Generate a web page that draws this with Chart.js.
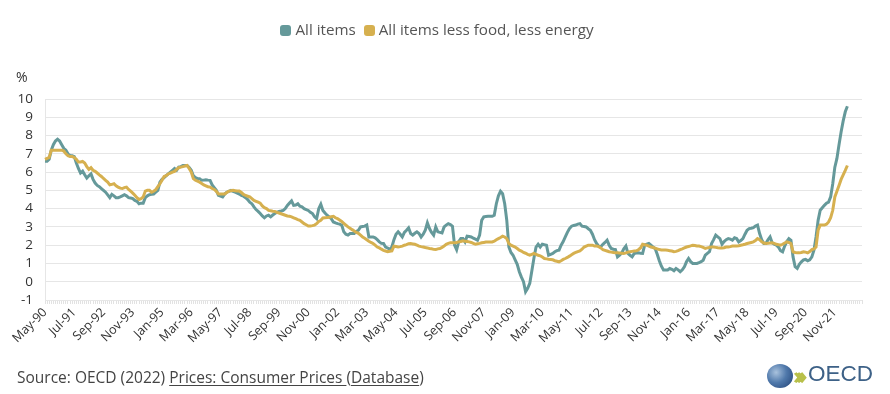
<!DOCTYPE html>
<html>
<head>
<meta charset="utf-8">
<script src="https://cdn.jsdelivr.net/npm/chart.js@4.4.0/dist/chart.umd.min.js"></script>
<style>
  body { margin: 0; background: #fff; font-family: "Open Sans", sans-serif; color: #444; }
  #wrap { position: relative; width: 890px; height: 394px; overflow: hidden; }
  #chart { position: absolute; left: 0; top: 0; }
  .legend { position: absolute; top: 19px; left: -8px; width: 890px; text-align: center; font-size: 15.2px; color: #555; }
  .legend span.box { display: inline-block; width: 11px; height: 11px; border-radius: 3px; vertical-align: -1px; margin-right: 4px; }
  .legend span.item { margin: 0 2px; }
  .unit { position: absolute; left: 16px; top: 67px; font-size: 14px; color: #333; }
  .source { position: absolute; left: 17px; top: 366px; font-size: 15.5px; color: #444; }
  .source u { text-underline-offset: 2px; }
  .logo { position: absolute; left: 767px; top: 364px; height: 26px; }
  .globe { position: absolute; left: 0; top: 0; width: 26px; height: 24px; border-radius: 50%;
    background: radial-gradient(circle at 35% 35%, #a9c2dd 0%, #5079ab 45%, #1f3f73 100%); }
  .chev { position: absolute; left: 26px; top: -6px; font-size: 24px; color: #b8c04a; letter-spacing: -6px; font-weight: bold; }
  .oecd { position: absolute; left: 41px; top: -3px; font-size: 22.5px; color: #3d6187; font-family: "Liberation Sans", Arial, sans-serif; }
</style>
</head>
<body>
<div id="wrap">
  <canvas id="chart" width="890" height="394"></canvas>
  <div class="legend">
    <span class="item"><span class="box" style="background:#65999a"></span>All items</span>
    <span class="item"><span class="box" style="background:#d6b04f"></span>All items less food, less energy</span>
  </div>
  <div class="unit">%</div>
  <div class="source">Source: OECD (2022) <u>Prices: Consumer Prices </u>(<u>Database</u>)</div>
  <div class="logo"><div class="globe"></div><div class="chev">&#8250;&#8250;&#8250;</div><div class="oecd">OECD</div></div>
</div>
<script>
// monthly, May-90 .. May-22 (year-on-year % change)
const allItems = [
  6.6, 6.6, 6.7, 7.2, 7.5, 7.7, 7.8, 7.7,                               // 1990 May-Dec
  7.5, 7.3, 7.2, 7.0, 6.9, 6.9, 6.85, 6.5, 6.2, 5.95, 6.05, 5.85,        // 1991
  5.67, 5.8, 5.9, 5.6, 5.4, 5.27, 5.2, 5.1, 5.0, 4.9, 4.75, 4.6,         // 1992
  4.78, 4.7, 4.6, 4.6, 4.64, 4.7, 4.76, 4.7, 4.6, 4.58, 4.55, 4.45,      // 1993
  4.4, 4.27, 4.3, 4.3, 4.6, 4.7, 4.76, 4.78, 4.8, 4.9, 5.0, 5.45,        // 1994
  5.6, 5.7, 5.8, 5.9, 6.0, 6.1, 6.2, 6.1, 6.27, 6.3, 6.36, 6.36,         // 1995
  6.36, 6.25, 6.1, 5.8, 5.7, 5.64, 5.64, 5.55, 5.56, 5.58, 5.56, 5.55,   // 1996
  5.3, 5.15, 5.0, 4.73, 4.68, 4.64, 4.8, 4.9, 4.95, 5.0, 4.95, 4.9,      // 1997
  4.85, 4.8, 4.73, 4.68, 4.6, 4.5, 4.35, 4.27, 4.1, 3.95, 3.85, 3.73,    // 1998
  3.6, 3.5, 3.6, 3.64, 3.55, 3.65, 3.73, 3.8, 3.85, 3.87, 3.9, 4.0,      // 1999
  4.18, 4.3, 4.42, 4.18, 4.2, 4.27, 4.13, 4.1, 4.0, 3.95, 3.9, 3.8,      // 2000
  3.73, 3.55, 3.45, 4.0, 4.24, 3.9, 3.76, 3.64, 3.55, 3.45, 3.27, 3.22,  // 2001
  3.18, 3.15, 3.1, 2.73, 2.6, 2.55, 2.64, 2.64, 2.64, 2.75, 2.82, 3.0,   // 2002
  3.02, 3.04, 3.1, 2.45, 2.45, 2.45, 2.4, 2.3, 2.18, 2.1, 2.09, 1.9,     // 2003
  1.85, 1.76, 1.9, 2.3, 2.6, 2.73, 2.6, 2.45, 2.7, 2.82, 2.95, 2.64,     // 2004
  2.55, 2.65, 2.73, 2.64, 2.45, 2.6, 2.82, 3.22, 2.91, 2.7, 2.55, 3.0,   // 2005
  2.73, 2.7, 2.67, 3.0, 3.1, 3.18, 3.13, 3.04, 2.0, 1.75, 2.2, 2.36,     // 2006
  2.36, 2.18, 2.49, 2.47, 2.45, 2.38, 2.33, 2.27, 2.55, 3.36, 3.55, 3.57, // 2007
  3.58, 3.58, 3.58, 3.64, 4.27, 4.7, 4.95, 4.82, 4.27, 3.36, 1.9, 1.6,   // 2008
  1.45, 1.2, 0.95, 0.55, 0.25, 0.0, -0.55, -0.36, -0.09, 0.6, 1.3, 1.9,  // 2009
  2.05, 1.9, 2.05, 2.02, 2.0, 1.45, 1.5, 1.55, 1.64, 1.7, 1.73, 2.0,     // 2010
  2.2, 2.45, 2.7, 2.91, 3.04, 3.08, 3.1, 3.15, 3.18, 3.04, 3.02, 3.0,    // 2011
  2.9, 2.82, 2.6, 2.3, 2.09, 1.95, 1.92, 2.05, 2.15, 2.27, 2.0, 1.82,    // 2012
  1.78, 1.76, 1.36, 1.45, 1.58, 1.8, 1.95, 1.55, 1.45, 1.36, 1.55, 1.57, // 2013
  1.58, 1.56, 1.55, 2.0, 2.05, 2.09, 2.0, 1.9, 1.82, 1.5, 1.15, 0.85,    // 2014
  0.64, 0.64, 0.64, 0.73, 0.68, 0.6, 0.73, 0.65, 0.55, 0.65, 0.82, 1.09, // 2015
  1.27, 1.1, 1.0, 1.0, 1.0, 1.04, 1.1, 1.18, 1.45, 1.55, 1.64, 2.09,     // 2016
  2.3, 2.55, 2.45, 2.36, 2.05, 2.2, 2.3, 2.36, 2.33, 2.27, 2.4, 2.36,    // 2017
  2.18, 2.25, 2.36, 2.6, 2.82, 2.91, 2.93, 2.96, 3.05, 3.1, 2.64, 2.3,   // 2018
  2.09, 2.09, 2.3, 2.45, 2.13, 2.05, 2.0, 1.9, 1.7, 1.64, 1.95, 2.2,     // 2019
  2.36, 2.27, 1.36, 0.82, 0.73, 0.95, 1.09, 1.2, 1.22, 1.15, 1.2, 1.36,  // 2020
  1.73, 2.45, 3.36, 3.91, 4.05, 4.18, 4.3, 4.36, 4.64, 5.36, 6.27, 6.75, // 2021
  7.5, 8.2, 8.8, 9.3, 9.6                                                // 2022 Jan-May
];

const coreItems = [
  6.7, 6.75, 6.8, 7.2, 7.2, 7.2, 7.2, 7.2,                               // 1990 May-Dec
  7.2, 7.15, 7.0, 6.9, 6.85, 6.85, 6.8, 6.7, 6.55, 6.55, 6.58, 6.5,      // 1991
  6.3, 6.15, 6.24, 6.1, 6.04, 5.95, 5.85, 5.76, 5.65, 5.55, 5.45, 5.3,   // 1992
  5.33, 5.36, 5.25, 5.18, 5.12, 5.1, 5.15, 5.18, 5.05, 4.96, 4.85, 4.73, // 1993
  4.6, 4.5, 4.55, 4.64, 4.96, 5.0, 5.0, 4.9, 4.95, 5.04, 5.2, 5.36,      // 1994
  5.55, 5.76, 5.8, 5.9, 5.95, 6.0, 6.04, 6.15, 6.24, 6.27, 6.3, 6.33,    // 1995
  6.36, 6.2, 6.0, 5.64, 5.55, 5.5, 5.45, 5.38, 5.3, 5.25, 5.2, 5.18,     // 1996
  5.1, 5.05, 4.95, 4.8, 4.8, 4.8, 4.8, 4.88, 4.96, 4.98, 5.0, 4.98,      // 1997
  4.96, 4.96, 4.88, 4.78, 4.72, 4.68, 4.64, 4.55, 4.45, 4.4, 4.35, 4.3,  // 1998
  4.15, 4.05, 4.0, 3.9, 3.88, 3.86, 3.85, 3.8, 3.76, 3.72, 3.68, 3.64,   // 1999
  3.6, 3.58, 3.55, 3.5, 3.45, 3.4, 3.36, 3.27, 3.18, 3.12, 3.05, 3.05,   // 2000
  3.07, 3.1, 3.18, 3.3, 3.36, 3.49, 3.5, 3.51, 3.53, 3.56, 3.58, 3.5,    // 2001
  3.45, 3.38, 3.3, 3.2, 3.1, 3.0, 2.93, 2.85, 2.78, 2.7, 2.65, 2.55,     // 2002
  2.45, 2.38, 2.3, 2.22, 2.15, 2.09, 2.0, 1.9, 1.85, 1.78, 1.72, 1.68,   // 2003
  1.64, 1.67, 1.69, 1.95, 1.93, 1.9, 1.92, 1.95, 2.0, 2.03, 2.08, 2.09,  // 2004
  2.07, 2.05, 2.0, 1.95, 1.92, 1.9, 1.87, 1.85, 1.82, 1.8, 1.77, 1.76,   // 2005
  1.8, 1.82, 1.88, 1.95, 2.05, 2.1, 2.13, 2.13, 2.13, 2.15, 2.18, 2.2,   // 2006
  2.24, 2.22, 2.2, 2.18, 2.15, 2.1, 2.05, 2.08, 2.1, 2.13, 2.15, 2.17,   // 2007
  2.18, 2.18, 2.18, 2.22, 2.3, 2.36, 2.42, 2.49, 2.45, 2.36, 2.09, 2.0,  // 2008
  1.95, 1.9, 1.82, 1.73, 1.68, 1.6, 1.56, 1.5, 1.45, 1.5, 1.55, 1.5,     // 2009
  1.45, 1.42, 1.35, 1.27, 1.25, 1.23, 1.22, 1.2, 1.15, 1.12, 1.09, 1.15, // 2010
  1.22, 1.27, 1.33, 1.4, 1.48, 1.55, 1.6, 1.65, 1.69, 1.78, 1.9, 1.95,   // 2011
  2.0, 2.0, 2.0, 1.95, 1.95, 1.92, 1.85, 1.76, 1.72, 1.68, 1.64, 1.62,   // 2012
  1.6, 1.58, 1.58, 1.57, 1.56, 1.55, 1.58, 1.62, 1.64, 1.66, 1.68, 1.69, // 2013
  1.75, 1.85, 2.05, 2.02, 2.0, 1.95, 1.9, 1.87, 1.83, 1.8, 1.76, 1.74,   // 2014
  1.73, 1.73, 1.72, 1.7, 1.68, 1.64, 1.66, 1.7, 1.76, 1.8, 1.85, 1.9,    // 2015
  1.93, 1.96, 2.0, 1.98, 1.96, 1.95, 1.92, 1.88, 1.82, 1.85, 1.88, 1.9,  // 2016
  1.9, 1.88, 1.86, 1.85, 1.85, 1.86, 1.9, 1.9, 1.92, 1.95, 1.96, 1.95,   // 2017
  1.97, 2.0, 2.02, 2.05, 2.09, 2.12, 2.15, 2.18, 2.25, 2.36, 2.3, 2.18,  // 2018
  2.12, 2.09, 2.1, 2.12, 2.13, 2.1, 2.05, 2.03, 2.0, 2.05, 2.12, 2.18,   // 2019
  2.15, 2.09, 1.64, 1.6, 1.58, 1.58, 1.6, 1.64, 1.62, 1.58, 1.65, 1.76,  // 2020
  1.8, 1.9, 2.82, 3.1, 3.1, 3.1, 3.15, 3.27, 3.5, 3.91, 4.64, 4.95,      // 2021
  5.27, 5.6, 5.85, 6.09, 6.36                                            // 2022 Jan-May
];

const tickLabels = ['May-90', 'Jul-91', 'Sep-92', 'Nov-93', 'Jan-95', 'Mar-96', 'May-97', 'Jul-98',
  'Sep-99', 'Nov-00', 'Jan-02', 'Mar-03', 'May-04', 'Jul-05', 'Sep-06', 'Nov-07', 'Jan-09', 'Mar-10',
  'May-11', 'Jul-12', 'Sep-13', 'Nov-14', 'Jan-16', 'Mar-17', 'May-18', 'Jul-19', 'Sep-20', 'Nov-21'];

// category axis runs May-90 .. Dec-22
const monthNames = ['Jan', 'Feb', 'Mar', 'Apr', 'May', 'Jun', 'Jul', 'Aug', 'Sep', 'Oct', 'Nov', 'Dec'];
const months = [];
for (let y = 1990; y <= 2022; y++) {
  for (let m = 0; m < 12; m++) {
    if (y === 1990 && m < 4) continue;
    months.push(monthNames[m] + '-' + String(y).slice(2));
  }
}

const tealColor = '#65999a';
const goldColor = '#d6b04f';

new Chart(document.getElementById('chart'), {
  type: 'line',
  data: {
    labels: months,
    datasets: [{
      label: 'All items less food, less energy',
      data: coreItems,
      borderColor: goldColor,
      borderWidth: 3,
      pointRadius: 0,
      tension: 0,
      fill: false,
    }, {
      label: 'All items',
      data: allItems,
      borderColor: tealColor,
      borderWidth: 3,
      pointRadius: 0,
      tension: 0,
      fill: false,
    }],
  },
  options: {
    responsive: false,
    animation: false,
    layout: { padding: { left: 0, right: 28, top: 99, bottom: 0 } },
    plugins: {
      legend: { display: false },
      tooltip: { enabled: false }
    },
    scales: {
      x: {
        afterFit: (scale) => { scale.height = 94; },
        grid: { drawOnChartArea: false, drawTicks: true, tickLength: 4, color: '#e2e2e2' },
        border: { display: false },
        ticks: {
          autoSkip: false,
          maxRotation: 45,
          minRotation: 45,
          padding: 1,
          color: '#333',
          font: { family: 'Open Sans', size: 12.5 },
          callback: function (value) {
            const lab = this.getLabelForValue(value);
            return tickLabels.includes(lab) ? lab : '';
          }
        }
      },
      y: {
        min: -1,
        max: 10,
        afterFit: (scale) => { scale.width = 45; },
        grid: { color: '#e6e6e6', drawTicks: false },
        border: { display: true, color: '#e6e6e6' },
        ticks: {
          stepSize: 1,
          autoSkip: false,
          padding: 12,
          color: '#333',
          font: { family: 'Open Sans', size: 13.5 }
        }
      }
    }
  }
});
</script>
</body>
</html>
